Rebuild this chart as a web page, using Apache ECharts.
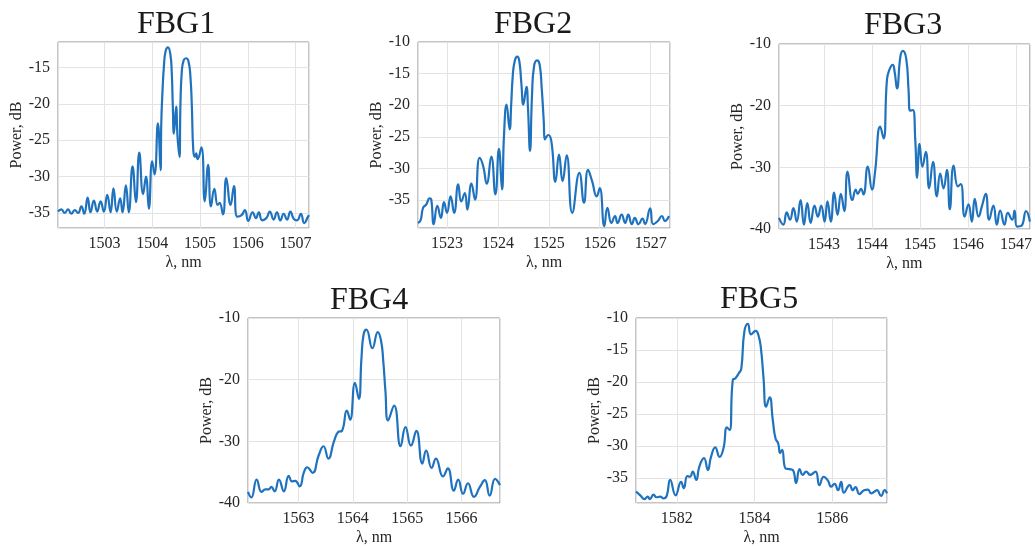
<!DOCTYPE html>
<html><head><meta charset="utf-8">
<script src="https://cdn.jsdelivr.net/npm/echarts@6/dist/echarts.min.js"></script>
<style>html,body{margin:0;padding:0;background:#fff}#c{width:1035px;height:549px}</style>
</head><body><div id="c"></div>
<script>
// ---------- data ----------
const titles = ['FBG1', 'FBG2', 'FBG3', 'FBG4', 'FBG5'];
const xAxisName = 'λ, nm';
const yAxisName = 'Power, dB';

const fbg1Wl = [1502.03,1502.10,1502.17,1502.24,1502.31,1502.38,1502.45,1502.52,1502.58,1502.65,1502.71,1502.78,1502.85,1502.92,1502.99,1503.06,1503.13,1503.19,1503.26,1503.33,1503.38,1503.45,1503.51,1503.59,1503.66,1503.73,1503.81,1503.87,1503.93,1504.00,1504.05,1504.12,1504.175,1504.19,1504.217,1504.245,1504.28,1504.33,1504.38,1504.41,1504.43,1504.455,1504.50,1504.53,1504.57,1504.59,1504.62,1504.66,1504.71,1504.76,1504.80,1504.83,1504.86,1504.895,1504.92,1504.95,1505.03,1505.10,1505.17,1505.23,1505.30,1505.37,1505.41,1505.48,1505.55,1505.64,1505.71,1505.78,1505.87,1505.94,1506.01,1506.10,1506.17,1506.23,1506.30,1506.39,1506.46,1506.54,1506.61,1506.68,1506.75,1506.82,1506.89,1506.96,1507.03,1507.11,1507.18,1507.26,1507.28];
const fbg1Pw = [-34.8,-34.5,-35.0,-34.5,-35.1,-34.6,-35.0,-34.1,-35.1,-32.9,-34.9,-33.3,-34.8,-33.4,-34.8,-32.5,-34.9,-31.6,-34.8,-33.0,-34.9,-31.2,-34.9,-28.6,-33.5,-26.7,-32.4,-30.0,-34.4,-27.9,-29.7,-22.7,-29.1,-22.7,-18.1,-14.9,-12.8,-12.25,-13.2,-15.8,-20.0,-24.1,-20.4,-24.5,-27.3,-20.4,-15.5,-14.0,-13.75,-14.2,-16.3,-20.4,-26.4,-27.3,-26.8,-27.6,-26.0,-33.4,-28.4,-34.1,-31.7,-33.9,-33.6,-35.2,-30.2,-33.9,-31.3,-35.5,-35.3,-34.6,-36.1,-34.9,-35.7,-34.9,-36.0,-35.7,-34.8,-35.9,-34.9,-36.0,-35.1,-35.9,-34.8,-35.8,-36.0,-35.1,-36.4,-35.5,-35.3];

const fbg2Wl = [1522.43,1522.48,1522.53,1522.59,1522.66,1522.69,1522.74,1522.81,1522.88,1522.94,1523.00,1523.07,1523.14,1523.22,1523.28,1523.35,1523.40,1523.48,1523.55,1523.64,1523.71,1523.78,1523.87,1523.95,1524.02,1524.08,1524.12,1524.17,1524.23,1524.26,1524.29,1524.33,1524.38,1524.42,1524.46,1524.50,1524.56,1524.59,1524.63,1524.67,1524.71,1524.77,1524.82,1524.86,1524.90,1524.92,1524.99,1525.05,1525.13,1525.20,1525.27,1525.35,1525.46,1525.60,1525.69,1525.77,1525.85,1525.94,1526.00,1526.09,1526.15,1526.23,1526.30,1526.35,1526.43,1526.50,1526.56,1526.63,1526.69,1526.76,1526.84,1526.89,1526.99,1527.05,1527.14,1527.22,1527.28,1527.36];
const fbg2Pw = [-38.6,-38.2,-36.2,-35.7,-34.7,-34.9,-38.8,-35.9,-37.8,-35.3,-37.0,-34.4,-37.0,-32.5,-35.2,-33.9,-36.5,-32.4,-34.9,-28.3,-29.6,-32.4,-28.1,-34.1,-26.9,-33.3,-24.6,-19.9,-23.8,-20.0,-15.5,-13.0,-12.3,-13.0,-16.5,-19.9,-17.1,-20.4,-27.2,-18.3,-13.8,-12.9,-13.6,-17.3,-22.5,-25.4,-24.7,-25.7,-32.1,-27.8,-32.0,-27.9,-37.0,-30.7,-35.4,-30.2,-32.0,-34.4,-33.1,-39.1,-36.2,-38.6,-37.5,-38.6,-37.3,-38.6,-37.3,-38.8,-37.8,-38.8,-37.9,-38.8,-36.3,-38.8,-38.3,-37.5,-38.3,-37.5];

const fbg3Wl = [1542.06,1542.15,1542.22,1542.29,1542.36,1542.43,1542.51,1542.58,1542.65,1542.72,1542.80,1542.87,1542.94,1543.01,1543.07,1543.14,1543.21,1543.28,1543.35,1543.42,1543.49,1543.59,1543.66,1543.70,1543.77,1543.82,1543.91,1544.00,1544.06,1544.17,1544.24,1544.31,1544.36,1544.43,1544.47,1544.52,1544.59,1544.64,1544.71,1544.76,1544.79,1544.85,1544.90,1544.94,1544.99,1545.05,1545.12,1545.19,1545.27,1545.35,1545.42,1545.49,1545.56,1545.62,1545.70,1545.79,1545.85,1545.93,1546.01,1546.08,1546.14,1546.22,1546.29,1546.37,1546.44,1546.53,1546.60,1546.67,1546.76,1546.83,1546.92,1546.97,1547.02,1547.11,1547.21,1547.29];
const fbg3Pw = [-38.2,-39.3,-37.3,-38.5,-36.6,-38.8,-35.3,-39.3,-35.8,-39.0,-36.2,-38.0,-36.2,-38.8,-35.5,-38.8,-34.1,-37.7,-34.3,-37.1,-30.7,-35.3,-33.6,-34.3,-33.5,-34.4,-29.9,-33.6,-30.9,-23.4,-25.3,-15.8,-14.2,-13.4,-14.5,-17.2,-12.05,-11.1,-12.3,-17.4,-20.8,-20.7,-25.5,-31.7,-26.2,-29.9,-27.5,-33.4,-29.1,-34.7,-31.0,-33.4,-30.4,-36.8,-29.7,-33.1,-32.7,-38.0,-36.0,-38.8,-35.1,-38.0,-36.3,-34.3,-38.5,-36.2,-39.3,-37.0,-39.3,-37.4,-38.5,-37.0,-39.6,-39.5,-37.1,-38.8];

const fbg4Wl = [1562.07,1562.13,1562.23,1562.32,1562.39,1562.45,1562.50,1562.56,1562.64,1562.73,1562.82,1562.88,1562.94,1563.02,1563.10,1563.16,1563.26,1563.37,1563.46,1563.55,1563.65,1563.73,1563.80,1563.89,1563.95,1564.04,1564.11,1564.16,1564.20,1564.25,1564.36,1564.46,1564.52,1564.56,1564.60,1564.65,1564.76,1564.88,1564.97,1565.07,1565.17,1565.28,1565.35,1565.45,1565.53,1565.66,1565.75,1565.86,1565.94,1566.03,1566.12,1566.23,1566.34,1566.43,1566.52,1566.62,1566.71];
const fbg4Pw = [-38.2,-39.1,-36.2,-38.2,-37.8,-37.8,-37.4,-38.1,-36.2,-38.1,-35.6,-36.5,-36.4,-37.3,-35.0,-34.2,-35.1,-32.3,-30.8,-32.8,-30.1,-28.5,-28.3,-25.0,-26.5,-20.5,-23.1,-16.4,-12.6,-11.9,-14.9,-12.3,-13.7,-16.9,-21.8,-26.6,-24.2,-30.8,-27.7,-30.7,-28.3,-33.6,-31.5,-34.3,-32.8,-35.7,-34.4,-38.0,-36.2,-38.5,-36.8,-39.0,-37.4,-36.3,-38.8,-36.1,-37.1];

const fbg5Wl = [1580.95,1581.06,1581.17,1581.25,1581.31,1581.40,1581.48,1581.57,1581.66,1581.74,1581.83,1581.97,1582.11,1582.18,1582.27,1582.34,1582.41,1582.50,1582.58,1582.70,1582.80,1582.88,1582.99,1583.10,1583.20,1583.29,1583.36,1583.44,1583.51,1583.60,1583.66,1583.74,1583.83,1583.91,1584.03,1584.11,1584.17,1584.23,1584.30,1584.39,1584.47,1584.54,1584.61,1584.66,1584.71,1584.80,1584.90,1584.99,1585.07,1585.16,1585.24,1585.33,1585.43,1585.57,1585.67,1585.78,1585.89,1585.97,1586.06,1586.15,1586.23,1586.30,1586.45,1586.53,1586.60,1586.70,1586.82,1586.92,1587.00,1587.09,1587.15,1587.26,1587.35,1587.41];
const fbg5Pw = [-37.1,-37.7,-38.3,-37.9,-38.3,-37.6,-38.0,-37.9,-38.2,-37.8,-35.3,-37.7,-35.6,-36.6,-34.7,-34.8,-34.0,-35.3,-33.2,-31.9,-33.75,-31.7,-30.2,-31.7,-30.4,-27.1,-27.5,-19.7,-19.4,-18.6,-17.9,-12.1,-10.9,-12.55,-12.0,-12.9,-15.0,-19.2,-23.85,-22.4,-25.9,-28.8,-29.6,-31.1,-30.6,-33.5,-33.6,-33.75,-35.8,-33.6,-34.5,-34.0,-34.5,-34.0,-36.1,-34.8,-35.4,-36.35,-35.9,-36.9,-35.6,-37.3,-36.1,-36.9,-36.4,-37.5,-36.9,-36.8,-37.4,-37.1,-36.9,-37.8,-36.9,-37.4];

// axis ranges and tick labels
const fbg1XRange = [1502.03, 1507.28], fbg1YRange = [-37.06, -11.52];
const fbg2XRange = [1522.43, 1527.38], fbg2YRange = [-39.4, -10];
const fbg3XRange = [1542.06, 1547.29], fbg3YRange = [-40, -10];
const fbg4XRange = [1562.07, 1566.71], fbg4YRange = [-40, -10];
const fbg5XRange = [1580.95, 1587.41], fbg5YRange = [-38.9, -10];

const fbg1XTicks = [1503, 1504, 1505, 1506, 1507], fbg1YTicks = [-35, -30, -25, -20, -15];
const fbg2XTicks = [1523, 1524, 1525, 1526, 1527], fbg2YTicks = [-35, -30, -25, -20, -15, -10];
const fbg3XTicks = [1543, 1544, 1545, 1546, 1547], fbg3YTicks = [-40, -30, -20, -10];
const fbg4XTicks = [1563, 1564, 1565, 1566], fbg4YTicks = [-40, -30, -20, -10];
const fbg5XTicks = [1582, 1584, 1586], fbg5YTicks = [-35, -30, -25, -20, -15, -10];

// ---------- layout (pixels) ----------
const panels = [
  { wl: fbg1Wl, pw: fbg1Pw, xr: fbg1XRange, yr: fbg1YRange, xt: fbg1XTicks, yt: fbg1YTicks,
    box: { left: 58, top: 42, width: 251, height: 186 }, tx: 176, ty: 9 },
  { wl: fbg2Wl, pw: fbg2Pw, xr: fbg2XRange, yr: fbg2YRange, xt: fbg2XTicks, yt: fbg2YTicks,
    box: { left: 418, top: 42, width: 252, height: 186 }, tx: 533, ty: 9 },
  { wl: fbg3Wl, pw: fbg3Pw, xr: fbg3XRange, yr: fbg3YRange, xt: fbg3XTicks, yt: fbg3YTicks,
    box: { left: 779, top: 44, width: 252, height: 185 }, tx: 903, ty: 10 },
  { wl: fbg4Wl, pw: fbg4Pw, xr: fbg4XRange, yr: fbg4YRange, xt: fbg4XTicks, yt: fbg4YTicks,
    box: { left: 248, top: 318, width: 252, height: 185 }, tx: 369, ty: 285 },
  { wl: fbg5Wl, pw: fbg5Pw, xr: fbg5XRange, yr: fbg5YRange, xt: fbg5XTicks, yt: fbg5YTicks,
    box: { left: 636, top: 318, width: 251, height: 185 }, tx: 759, ty: 284 }
];

const FONT = 'Liberation Serif';
const TXT = '#262626';
const fmt = ticks => v => ticks.some(t => Math.abs(t - v) < 1e-6) ? String(Math.round(v)) : '';

const grid = [], xAxis = [], yAxis = [], series = [], title = [];
panels.forEach((p, i) => {
  grid.push(Object.assign({ show: true, borderColor: '#8a8a8a', borderWidth: 1, backgroundColor: '#fff' }, p.box));
  const xi = p.xt[1] - p.xt[0];
  const yi = p.yt[1] - p.yt[0];
  xAxis.push({
    type: 'value', gridIndex: i, min: p.xr[0], max: p.xr[1], minInterval: xi, maxInterval: xi, splitNumber: 5,
    axisLine: { show: false }, axisTick: { show: false },
    splitLine: { show: true, lineStyle: { color: '#e3e3e3', width: 1 } },
    axisLabel: { formatter: fmt(p.xt), fontFamily: FONT, fontSize: 16, color: TXT, margin: 8, showMinLabel: true, showMaxLabel: true },
    name: xAxisName, nameLocation: 'middle', nameGap: 27,
    nameTextStyle: { fontFamily: FONT, fontSize: 16, color: TXT }
  });
  yAxis.push({
    type: 'value', gridIndex: i, min: p.yr[0], max: p.yr[1], minInterval: yi, maxInterval: yi, splitNumber: 5,
    axisLine: { show: false }, axisTick: { show: false },
    splitLine: { show: true, lineStyle: { color: '#e3e3e3', width: 1 } },
    axisLabel: { formatter: fmt(p.yt), fontFamily: FONT, fontSize: 16, color: TXT, margin: 8, showMinLabel: true, showMaxLabel: true },
    name: yAxisName, nameLocation: 'middle', nameGap: 27,
    nameTextStyle: { fontFamily: FONT, fontSize: 16, color: TXT }
  });
  series.push({
    type: 'line', xAxisIndex: i, yAxisIndex: i,
    data: p.wl.map((w, k) => [w, p.pw[k]]),
    showSymbol: false, smooth: 0.5, clip: true,
    lineStyle: { color: '#1f72bd', width: 2.2 }, silent: true
  });
  title.push({
    text: titles[i], left: p.tx, top: p.ty, textAlign: 'center', padding: 0,
    textStyle: { fontFamily: FONT, fontSize: 32, fontWeight: 'normal', color: '#1a1a1a' }
  });
});

const chart = echarts.init(document.getElementById('c'), null, { renderer: 'canvas' });
chart.setOption({ animation: false, backgroundColor: '#fff', title, grid, xAxis, yAxis, series });
</script>
</body></html>
